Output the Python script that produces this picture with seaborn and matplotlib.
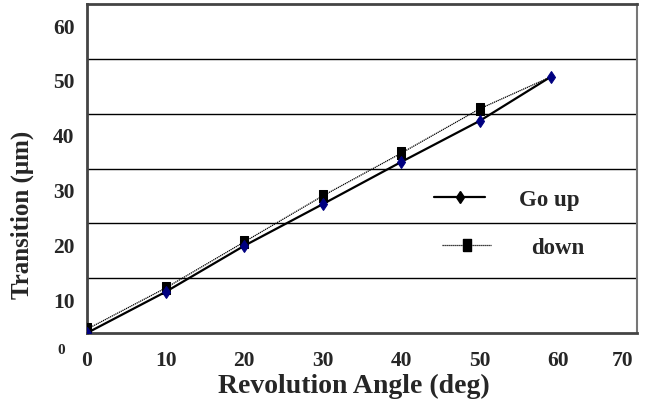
import numpy as np
import pandas as pd
import matplotlib
matplotlib.use("Agg")
import matplotlib.pyplot as plt
import matplotlib.transforms as mtransforms
from matplotlib.lines import Line2D
import seaborn as sns

# Values
angle = [0, 10, 20, 30, 40, 50, 59]
go_up = [0.0, 7.5, 15.9, 23.5, 31.2, 38.7, 46.7]
down = [0.7, 8.2, 16.6, 25.0, 32.8, 40.9, 46.7]
x_ticks = [0, 10, 20, 30, 40, 50, 60, 70]
y_ticks = [0, 10, 20, 30, 40, 50, 60]

sns.set_style("white")
plt.rcParams['font.family'] = ['Liberation Serif', 'DejaVu Serif']
plt.rcParams['font.weight'] = 'bold'

fig = plt.figure(figsize=(6.5, 4.14), dpi=100)
ax = fig.add_axes([87 / 650, 80 / 414, 550 / 650, 329 / 414])

df = pd.DataFrame({'angle': angle, 'up': go_up, 'down': down})

# tall rectangle / thin diamond markers like the original
rect = [(-0.65, -1), (0.65, -1), (0.65, 1), (-0.65, 1), (-0.65, -1)]
sq_style = dict(marker=rect, markersize=9, markerfacecolor='black', markeredgecolor='black')
di_style = dict(marker='d', markersize=6, markerfacecolor='#000080', markeredgecolor='#000080')

# down series first; its last square is hidden under the end diamond in the original
sns.lineplot(data=df, x='angle', y='down', ax=ax, color='black', lw=0.9,
             linestyle=(0, (1, 0.6)), zorder=3, markevery=slice(0, -1), **sq_style)
sns.lineplot(data=df, x='angle', y='up', ax=ax, color='black', lw=1.6,
             zorder=4, **di_style)

ax.set_xlim(0, 70)
ax.set_ylim(0, 60)
ax.set_xticks(x_ticks)
ax.set_yticks(y_ticks)
ax.set_xticklabels([str(v) for v in x_ticks], fontsize=15.5, fontweight='bold')
ax.set_yticklabels([str(v) for v in y_ticks], fontsize=15.5, fontweight='bold')
ax.get_yticklabels()[0].set_fontsize(11)

ax.tick_params(axis='x', direction='in', length=5, width=0.8, color='#333333', pad=12)
ax.tick_params(axis='y', length=0, pad=9)

# shift tick labels like the original
def px(dx, dy):
    return mtransforms.ScaledTranslation(dx / 100, dy / 100, fig.dpi_scale_trans)

for i, lab in enumerate(ax.get_yticklabels()):
    lab.set_transform(lab.get_transform() + (px(-10, -15) if i == 0 else px(0, -21)))
last = ax.get_xticklabels()[-1]
last.set_transform(last.get_transform() + px(-14, 0))

for v in y_ticks[1:-1]:
    ax.axhline(v, color='black', lw=1.0, zorder=1)

for side in ['left', 'bottom', 'top']:
    ax.spines[side].set_color('#444444')
    ax.spines[side].set_linewidth(2)
ax.spines['right'].set_color('#777777')
ax.spines['right'].set_linewidth(1.5)

ax.set_xlabel('Revolution Angle (deg)', fontsize=20, fontweight='bold')
ax.set_ylabel('Transition (μm)', fontsize=18, fontweight='bold')
ax.xaxis.set_label_coords(0.486, -0.122)
ax.yaxis.set_label_coords(-0.097, 0.362)

lprop = {'family': 'Liberation Serif', 'weight': 'bold', 'size': 16.5}
h_up = Line2D([], [], color='black', lw=1.6, marker='d', markersize=6,
              markerfacecolor='black', markeredgecolor='black')
h_down = Line2D([], [], color='black', lw=0.9, linestyle=(0, (1, 0.6)), **sq_style)

leg1 = ax.legend([h_up], ['Go up'], loc='center left', frameon=False,
                 bbox_to_anchor=(434 / 650, 1 - 200 / 414), bbox_transform=fig.transFigure,
                 borderpad=0, borderaxespad=0, handlelength=2.23, handletextpad=1.48, prop=lprop)
ax.add_artist(leg1)
ax.legend([h_down], ['down'], loc='center left', frameon=False,
          bbox_to_anchor=(442 / 650, 1 - 248 / 414), bbox_transform=fig.transFigure,
          borderpad=0, borderaxespad=0, handlelength=2.14, handletextpad=1.75, prop=lprop)

fig.savefig('out.png', dpi=100)
